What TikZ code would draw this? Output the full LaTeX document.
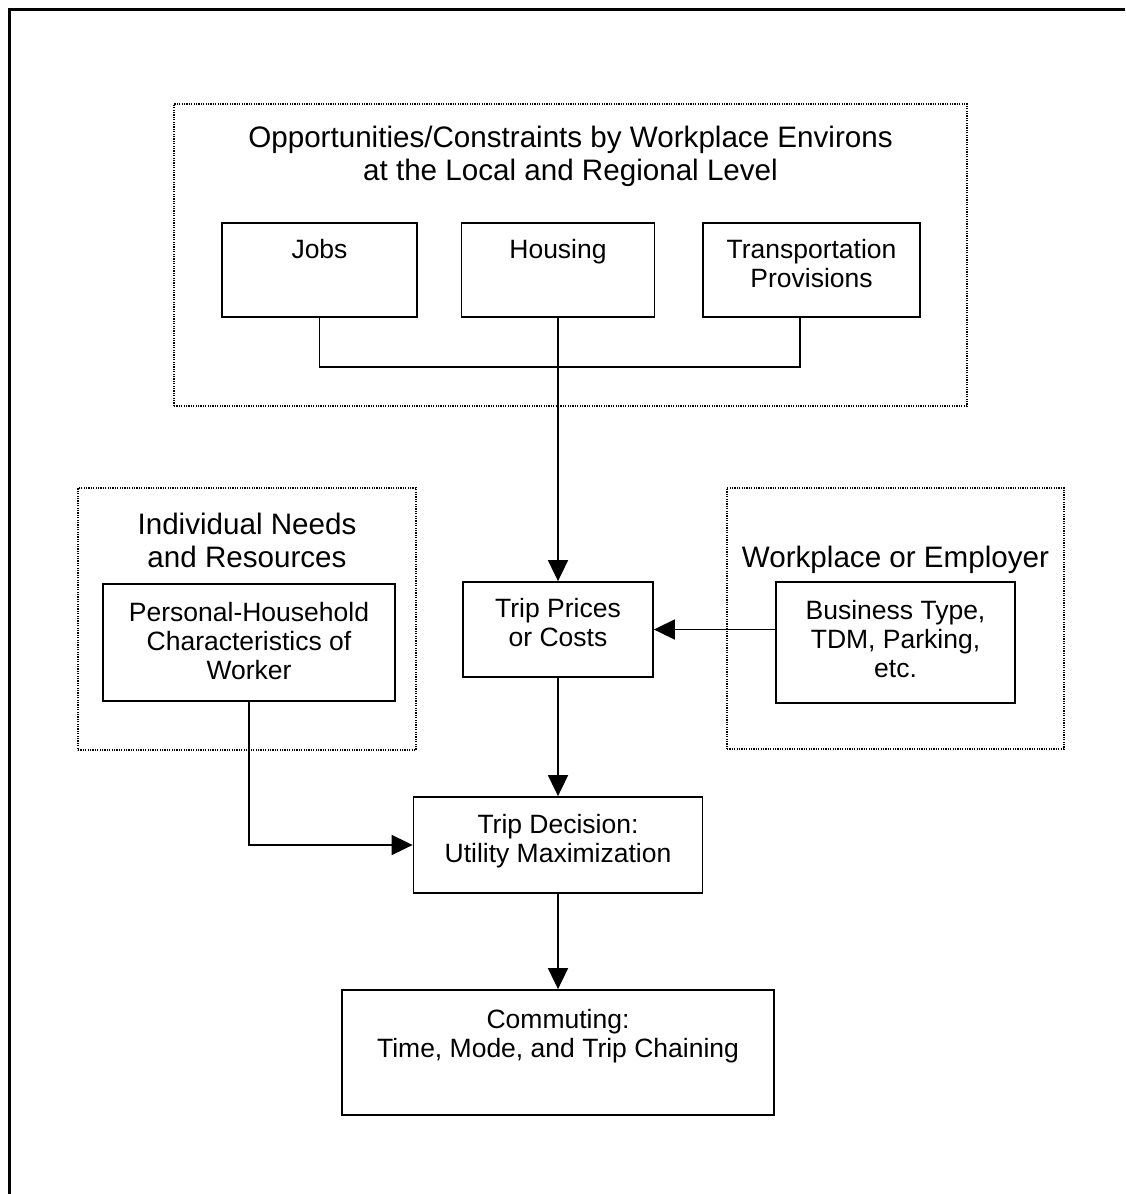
\documentclass[tikz,border=0pt]{standalone}
\usepackage{fontspec}
\setmainfont{Liberation Sans}
\usetikzlibrary{arrows.meta}
\newcommand{\boxfont}{\fontsize{13.25}{14.5}\selectfont}
\newcommand{\groupfont}{\fontsize{14.8}{16.5}\selectfont}

\begin{document}
\begin{tikzpicture}[x=0.5pt,y=-0.5pt,
  >={Triangle[length=10.5pt,width=10pt]},
  box/.style={draw,line width=0.9pt,align=center,inner sep=0pt,font=\boxfont},
  group/.style={draw,line width=0.6pt,dash pattern=on 0.6pt off 0.6pt,align=center,inner sep=0pt,font=\groupfont},
  wire/.style={line width=0.9pt}]
\useasboundingbox (0,0) rectangle (1125,1194);
\draw[line width=1.5pt] (9,1194) -- (9,9) -- (1125,9);

% dotted groups
\node[group,minimum width=396.5pt,text height=38pt,text depth=113pt] (environs) at (570.5,255) {Opportunities/Constraints by Workplace Environs\\at the Local and Regional Level};
\node[group,minimum width=169pt,text height=39.5pt,text depth=91.5pt] (needs) at (247,619) {Individual Needs\\and Resources};
\node[group,minimum width=168.5pt,text height=39.5pt,text depth=91pt] (employer) at (895.5,618.5) {Workplace or Employer};

% boxes
\node[box,minimum width=97.5pt,text height=17.5pt,text depth=29.5pt] (jobs) at (319.5,270) {Jobs};
\node[box,minimum width=96.5pt,text height=17.5pt,text depth=29.5pt] (housing) at (558,270) {Housing};
\node[box,minimum width=108.5pt,text height=32pt,text depth=15pt] (transport) at (811.5,270) {Transportation\\Provisions};
\node[box,minimum width=95pt,text height=32pt,text depth=15.5pt] (prices) at (558,629.5) {Trip Prices\\or Costs};
\node[box,minimum width=119.5pt,text height=47.5pt,text depth=13pt] (business) at (895.5,642.5) {Business Type,\\TDM, Parking,\\etc.};
\node[box,minimum width=146pt,text height=47.5pt,text depth=11pt] (personal) at (249,642.5) {Personal-Household\\Characteristics of\\Worker};
\node[box,minimum width=144.5pt,text height=32.5pt,text depth=15.5pt] (decision) at (558,845) {Trip Decision:\\Utility Maximization};
\node[box,minimum width=216pt,text height=33.5pt,text depth=29pt] (commute) at (558,1052.5) {Commuting:\\Time, Mode, and Trip Chaining};

% connectors
\coordinate (join) at (800,367);
\draw[wire] (jobs.south) |- (join) -- (join |- transport.south);
\draw[wire,->] (housing.south) -- (prices.north);
\draw[wire,->] (business.west |- prices.east) -- (prices.east);
\draw[wire,->] (personal.south) |- (decision.west);
\draw[wire,->] (prices.south) -- (decision.north);
\draw[wire,->] (decision.south) -- (commute.north);
\end{tikzpicture}
\end{document}
